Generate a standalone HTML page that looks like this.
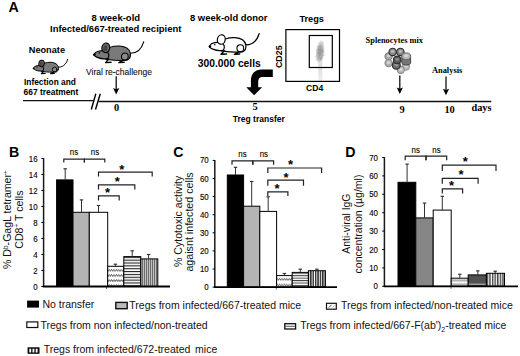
<!DOCTYPE html>
<html><head><meta charset="utf-8"><style>
html,body{margin:0;padding:0;background:#fff;}
svg{display:block;}
</style></head><body>
<svg width="520" height="356" viewBox="0 0 520 356">
<rect width="520" height="356" fill="#fff"/>
<text x="8.6" y="11.9" font-size="14.2" font-weight="bold" font-family="'Liberation Sans', sans-serif" text-anchor="start" fill="#000" >A</text>
<text x="91.5" y="20.8" font-size="9.5" font-weight="bold" font-family="'Liberation Sans', sans-serif" text-anchor="start" fill="#000" >8 week-old</text>
<text x="50.0" y="32.3" font-size="9.46" font-weight="bold" font-family="'Liberation Sans', sans-serif" text-anchor="start" fill="#000" >Infected/667-treated recipient</text>
<text x="28.8" y="53.0" font-size="9.18" font-weight="bold" font-family="'Liberation Sans', sans-serif" text-anchor="start" fill="#000" >Neonate</text>
<text x="24.0" y="84.9" font-size="8.35" font-weight="bold" font-family="'Liberation Sans', sans-serif" text-anchor="start" fill="#000" >Infection and</text>
<text x="23.6" y="95.3" font-size="8.42" font-weight="bold" font-family="'Liberation Sans', sans-serif" text-anchor="start" fill="#000" >667 treatment</text>
<text x="86.0" y="74.6" font-size="8.5" font-weight="normal" font-family="'Liberation Sans', sans-serif" text-anchor="start" fill="#111" stroke="#111" stroke-width="0.1">Viral re-challenge</text>
<text x="190.0" y="20.9" font-size="9.44" font-weight="bold" font-family="'Liberation Sans', sans-serif" text-anchor="start" fill="#000" >8 week-old donor</text>
<text x="197.8" y="67.4" font-size="10.3" font-weight="bold" font-family="'Liberation Sans', sans-serif" text-anchor="start" fill="#000" >300.000 cells</text>
<text x="299.4" y="21.5" font-size="9.22" font-weight="bold" font-family="'Liberation Sans', sans-serif" text-anchor="start" fill="#000" >Tregs</text>
<text x="306.0" y="90.7" font-size="8.6" font-weight="bold" font-family="'Liberation Sans', sans-serif" text-anchor="start" fill="#000" >CD4</text>
<text transform="translate(281.7,45.4) rotate(-90)" font-size="8.9" font-weight="bold" font-family="'Liberation Sans', sans-serif" text-anchor="end">CD25</text>
<text x="232.8" y="121.5" font-size="8.51" font-weight="bold" font-family="'Liberation Sans', sans-serif" text-anchor="start" fill="#000" >Treg transfer</text>
<text x="365.6" y="42.7" font-size="8.4" font-weight="bold" font-family="'Liberation Serif', serif" text-anchor="start" fill="#000" >Splenocytes mix</text>
<text x="431.9" y="72.7" font-size="8.42" font-weight="bold" font-family="'Liberation Serif', serif" text-anchor="start" fill="#000" >Analysis</text>
<text x="471.4" y="110.9" font-size="10.33" font-weight="bold" font-family="'Liberation Serif', serif" text-anchor="start" fill="#000" >days</text>
<text x="116.7" y="110.6" font-size="10.4" font-weight="bold" font-family="'Liberation Serif', serif" text-anchor="middle" fill="#000" >0</text>
<text x="255.0" y="110.4" font-size="10.4" font-weight="bold" font-family="'Liberation Serif', serif" text-anchor="middle" fill="#000" >5</text>
<text x="402.1" y="113.1" font-size="10.4" font-weight="bold" font-family="'Liberation Serif', serif" text-anchor="middle" fill="#000" >9</text>
<text x="449.6" y="113.3" font-size="10.4" font-weight="bold" font-family="'Liberation Serif', serif" text-anchor="middle" fill="#000" >10</text>
<line x1="23" y1="100.6" x2="93.6" y2="100.6" stroke="#111" stroke-width="1.4"/>
<line x1="98.6" y1="101.5" x2="491.3" y2="101.5" stroke="#111" stroke-width="1.35"/>
<line x1="95.8" y1="93.7" x2="91.3" y2="109.5" stroke="#000" stroke-width="1.4"/>
<line x1="100.3" y1="93.7" x2="95.5" y2="109.5" stroke="#000" stroke-width="1.4"/>
<line x1="116.2" y1="76.2" x2="116.2" y2="90.5" stroke="#111" stroke-width="1.3"/>
<path d="M113.10000000000001,88.1 L116.2,89.3 L119.3,88.1 L116.2,94.5 Z" fill="#000"/>
<line x1="399.8" y1="75.5" x2="399.8" y2="90.0" stroke="#111" stroke-width="1.3"/>
<path d="M396.7,87.6 L399.8,88.8 L402.90000000000003,87.6 L399.8,94.0 Z" fill="#000"/>
<line x1="446.0" y1="76.5" x2="446.0" y2="91.2" stroke="#111" stroke-width="1.3"/>
<path d="M442.9,88.8 L446.0,90.0 L449.1,88.8 L446.0,95.2 Z" fill="#000"/>
<path d="M272.8,69.6 L272.8,77.1 L261.5,77.1 Q258.2,77.6 258.2,82 L258.2,87.2 L262.2,87.2 L254.1,95.3 L246.3,87.2 L250.9,87.2 L250.9,80 Q251.5,70 261,69.6 Z" fill="#000"/>
<defs><radialGradient id="blob" cx="0.5" cy="0.5" r="0.5"><stop offset="0" stop-color="#969696"/><stop offset="0.45" stop-color="#b0b0b0"/><stop offset="0.8" stop-color="#dcdcdc"/><stop offset="1" stop-color="#fff" stop-opacity="0"/></radialGradient><linearGradient id="streak" x1="0" y1="0" x2="0" y2="1"><stop offset="0" stop-color="#d8d8d8"/><stop offset="1" stop-color="#eee"/></linearGradient></defs>
<rect x="318.3" y="60" width="4" height="21" fill="url(#streak)"/>
<ellipse cx="320.1" cy="52.0" rx="4.8" ry="13" transform="rotate(6 320.1 52.0)" fill="url(#blob)"/>
<rect x="319.31" y="54.81" width="0.9" height="0.9" fill="rgb(126,126,126)" opacity="0.55"/>
<rect x="322.03" y="55.00" width="0.9" height="0.9" fill="rgb(166,166,166)" opacity="0.55"/>
<rect x="316.89" y="46.01" width="0.9" height="0.9" fill="rgb(147,147,147)" opacity="0.55"/>
<rect x="322.04" y="53.37" width="0.9" height="0.9" fill="rgb(128,128,128)" opacity="0.55"/>
<rect x="319.55" y="58.95" width="0.9" height="0.9" fill="rgb(127,127,127)" opacity="0.55"/>
<rect x="320.83" y="49.50" width="0.9" height="0.9" fill="rgb(148,148,148)" opacity="0.55"/>
<rect x="318.83" y="46.68" width="0.9" height="0.9" fill="rgb(127,127,127)" opacity="0.55"/>
<rect x="318.58" y="49.42" width="0.9" height="0.9" fill="rgb(148,148,148)" opacity="0.55"/>
<rect x="323.57" y="55.14" width="0.9" height="0.9" fill="rgb(157,157,157)" opacity="0.55"/>
<rect x="317.59" y="55.34" width="0.9" height="0.9" fill="rgb(159,159,159)" opacity="0.55"/>
<rect x="317.59" y="48.92" width="0.9" height="0.9" fill="rgb(133,133,133)" opacity="0.55"/>
<rect x="318.00" y="48.15" width="0.9" height="0.9" fill="rgb(167,167,167)" opacity="0.55"/>
<rect x="322.18" y="56.99" width="0.9" height="0.9" fill="rgb(127,127,127)" opacity="0.55"/>
<rect x="318.82" y="47.62" width="0.9" height="0.9" fill="rgb(188,188,188)" opacity="0.55"/>
<rect x="318.33" y="54.10" width="0.9" height="0.9" fill="rgb(178,178,178)" opacity="0.55"/>
<rect x="318.81" y="55.18" width="0.9" height="0.9" fill="rgb(143,143,143)" opacity="0.55"/>
<rect x="320.02" y="48.09" width="0.9" height="0.9" fill="rgb(158,158,158)" opacity="0.55"/>
<rect x="316.25" y="50.23" width="0.9" height="0.9" fill="rgb(177,177,177)" opacity="0.55"/>
<rect x="317.28" y="66.97" width="0.9" height="0.9" fill="rgb(135,135,135)" opacity="0.55"/>
<rect x="318.93" y="51.75" width="0.9" height="0.9" fill="rgb(163,163,163)" opacity="0.55"/>
<rect x="320.92" y="57.20" width="0.9" height="0.9" fill="rgb(125,125,125)" opacity="0.55"/>
<rect x="320.93" y="51.48" width="0.9" height="0.9" fill="rgb(160,160,160)" opacity="0.55"/>
<rect x="318.67" y="56.31" width="0.9" height="0.9" fill="rgb(183,183,183)" opacity="0.55"/>
<rect x="318.46" y="49.08" width="0.9" height="0.9" fill="rgb(131,131,131)" opacity="0.55"/>
<rect x="322.44" y="49.88" width="0.9" height="0.9" fill="rgb(128,128,128)" opacity="0.55"/>
<rect x="322.67" y="55.18" width="0.9" height="0.9" fill="rgb(177,177,177)" opacity="0.55"/>
<rect x="319.14" y="57.30" width="0.9" height="0.9" fill="rgb(164,164,164)" opacity="0.55"/>
<rect x="322.22" y="52.86" width="0.9" height="0.9" fill="rgb(141,141,141)" opacity="0.55"/>
<rect x="318.72" y="47.88" width="0.9" height="0.9" fill="rgb(147,147,147)" opacity="0.55"/>
<rect x="320.51" y="49.12" width="0.9" height="0.9" fill="rgb(151,151,151)" opacity="0.55"/>
<rect x="315.79" y="59.34" width="0.9" height="0.9" fill="rgb(183,183,183)" opacity="0.55"/>
<rect x="321.72" y="54.91" width="0.9" height="0.9" fill="rgb(190,190,190)" opacity="0.55"/>
<rect x="319.62" y="54.94" width="0.9" height="0.9" fill="rgb(175,175,175)" opacity="0.55"/>
<rect x="321.50" y="48.65" width="0.9" height="0.9" fill="rgb(173,173,173)" opacity="0.55"/>
<rect x="323.19" y="51.29" width="0.9" height="0.9" fill="rgb(168,168,168)" opacity="0.55"/>
<rect x="321.29" y="51.17" width="0.9" height="0.9" fill="rgb(142,142,142)" opacity="0.55"/>
<rect x="321.15" y="58.56" width="0.9" height="0.9" fill="rgb(121,121,121)" opacity="0.55"/>
<rect x="317.38" y="52.69" width="0.9" height="0.9" fill="rgb(153,153,153)" opacity="0.55"/>
<rect x="319.57" y="55.02" width="0.9" height="0.9" fill="rgb(188,188,188)" opacity="0.55"/>
<rect x="317.82" y="57.21" width="0.9" height="0.9" fill="rgb(136,136,136)" opacity="0.55"/>
<rect x="319.84" y="45.84" width="0.9" height="0.9" fill="rgb(126,126,126)" opacity="0.55"/>
<rect x="315.90" y="54.99" width="0.9" height="0.9" fill="rgb(170,170,170)" opacity="0.55"/>
<rect x="318.17" y="55.29" width="0.9" height="0.9" fill="rgb(181,181,181)" opacity="0.55"/>
<rect x="319.77" y="50.53" width="0.9" height="0.9" fill="rgb(128,128,128)" opacity="0.55"/>
<rect x="322.30" y="51.43" width="0.9" height="0.9" fill="rgb(134,134,134)" opacity="0.55"/>
<rect x="319.60" y="53.53" width="0.9" height="0.9" fill="rgb(120,120,120)" opacity="0.55"/>
<rect x="318.11" y="49.22" width="0.9" height="0.9" fill="rgb(166,166,166)" opacity="0.55"/>
<rect x="319.66" y="50.62" width="0.9" height="0.9" fill="rgb(146,146,146)" opacity="0.55"/>
<rect x="319.45" y="49.95" width="0.9" height="0.9" fill="rgb(152,152,152)" opacity="0.55"/>
<rect x="322.92" y="49.94" width="0.9" height="0.9" fill="rgb(180,180,180)" opacity="0.55"/>
<rect x="322.14" y="59.46" width="0.9" height="0.9" fill="rgb(179,179,179)" opacity="0.55"/>
<rect x="318.33" y="52.58" width="0.9" height="0.9" fill="rgb(138,138,138)" opacity="0.55"/>
<rect x="321.27" y="55.02" width="0.9" height="0.9" fill="rgb(153,153,153)" opacity="0.55"/>
<rect x="316.94" y="53.13" width="0.9" height="0.9" fill="rgb(186,186,186)" opacity="0.55"/>
<rect x="324.76" y="53.95" width="0.9" height="0.9" fill="rgb(187,187,187)" opacity="0.55"/>
<rect x="317.48" y="58.43" width="0.9" height="0.9" fill="rgb(123,123,123)" opacity="0.55"/>
<rect x="320.65" y="47.38" width="0.9" height="0.9" fill="rgb(131,131,131)" opacity="0.55"/>
<rect x="319.99" y="47.96" width="0.9" height="0.9" fill="rgb(166,166,166)" opacity="0.55"/>
<rect x="321.95" y="49.19" width="0.9" height="0.9" fill="rgb(148,148,148)" opacity="0.55"/>
<rect x="316.89" y="50.06" width="0.9" height="0.9" fill="rgb(162,162,162)" opacity="0.55"/>
<rect x="318.87" y="46.27" width="0.9" height="0.9" fill="rgb(144,144,144)" opacity="0.55"/>
<rect x="322.33" y="42.47" width="0.9" height="0.9" fill="rgb(149,149,149)" opacity="0.55"/>
<rect x="320.21" y="58.09" width="0.9" height="0.9" fill="rgb(123,123,123)" opacity="0.55"/>
<rect x="323.69" y="51.37" width="0.9" height="0.9" fill="rgb(180,180,180)" opacity="0.55"/>
<rect x="319.08" y="60.43" width="0.9" height="0.9" fill="rgb(164,164,164)" opacity="0.55"/>
<rect x="315.23" y="56.21" width="0.9" height="0.9" fill="rgb(164,164,164)" opacity="0.55"/>
<rect x="322.08" y="50.54" width="0.9" height="0.9" fill="rgb(148,148,148)" opacity="0.55"/>
<rect x="321.53" y="55.71" width="0.9" height="0.9" fill="rgb(163,163,163)" opacity="0.55"/>
<rect x="320.15" y="59.38" width="0.9" height="0.9" fill="rgb(120,120,120)" opacity="0.55"/>
<rect x="317.11" y="53.03" width="0.9" height="0.9" fill="rgb(130,130,130)" opacity="0.55"/>
<rect x="285.9" y="29.6" width="53.6" height="51.8" fill="none" stroke="#000" stroke-width="1.2"/>
<rect x="309.3" y="35.5" width="23" height="32" fill="none" stroke="#000" stroke-width="1.2"/>
<g transform="translate(93.7,54.6) scale(1.0)" stroke="#000" stroke-width="1.15" stroke-linejoin="round" stroke-linecap="round">
<path d="M36.2,-1.4 C42,-1.2 47.5,-4.5 50,-12.8" fill="none"/>
<path d="M9,-3.2 C13,-6.8 19,-8.8 26,-8.6 C31.5,-8.2 35.8,-5.5 36.6,-1.4 C37.1,1.8 35.8,4.6 33.2,5.6 C28,6.2 19,5.6 12,4.6 Z" fill="#7a7a7a"/>
<path d="M0,0 C1.2,-1.9 3.2,-3.2 5.6,-3.6 C9,-4.2 12.5,-3.8 14.2,-2.0 C15.6,-0.4 15.4,2.8 13.6,4.0 C10.5,4.6 6.5,4.0 3.6,2.8 C2.2,2.2 1.0,1.4 0.3,0.8 Z" fill="#7a7a7a"/>
<circle cx="31.1" cy="1.9" r="3.4" fill="#8a8a8a" stroke-width="1.035"/>
<ellipse cx="12.1" cy="-6.8" rx="3.9" ry="4.8" transform="rotate(12 12.1 -6.8)" fill="#6a6a6a"/>
<ellipse cx="11.6" cy="-6.2" rx="2.0" ry="3.4" transform="rotate(12 11.6 -6.2)" fill="#444" stroke="none"/>
<path d="M15,4.4 L11.9,8.0 L17.3,7.6" fill="none" stroke-width="1.4375"/>
<path d="M29.4,5.6 L25.2,8.0 L30.5,7.6" fill="none" stroke-width="1.4375"/>
<circle cx="0.8" cy="0.2" r="1.2" fill="#000" stroke="none"/>
<circle cx="5.6" cy="-1.6" r="0.8" fill="#000" stroke="none"/>
</g>
<g transform="translate(33.2,68.2) scale(0.69)" stroke="#000" stroke-width="1.4" stroke-linejoin="round" stroke-linecap="round">
<path d="M36.2,-1.4 C42,-1.2 47.5,-4.5 50,-12.8" fill="none"/>
<path d="M9,-3.2 C13,-6.8 19,-8.8 26,-8.6 C31.5,-8.2 35.8,-5.5 36.6,-1.4 C37.1,1.8 35.8,4.6 33.2,5.6 C28,6.2 19,5.6 12,4.6 Z" fill="#7a7a7a"/>
<path d="M0,0 C1.2,-1.9 3.2,-3.2 5.6,-3.6 C9,-4.2 12.5,-3.8 14.2,-2.0 C15.6,-0.4 15.4,2.8 13.6,4.0 C10.5,4.6 6.5,4.0 3.6,2.8 C2.2,2.2 1.0,1.4 0.3,0.8 Z" fill="#7a7a7a"/>
<circle cx="31.1" cy="1.9" r="3.4" fill="#8a8a8a" stroke-width="1.26"/>
<ellipse cx="12.1" cy="-6.8" rx="3.9" ry="4.8" transform="rotate(12 12.1 -6.8)" fill="#6a6a6a"/>
<ellipse cx="11.6" cy="-6.2" rx="2.0" ry="3.4" transform="rotate(12 11.6 -6.2)" fill="#444" stroke="none"/>
<path d="M15,4.4 L11.9,8.0 L17.3,7.6" fill="none" stroke-width="1.75"/>
<path d="M29.4,5.6 L25.2,8.0 L30.5,7.6" fill="none" stroke-width="1.75"/>
<circle cx="0.8" cy="0.2" r="1.2" fill="#000" stroke="none"/>
<circle cx="5.6" cy="-1.6" r="0.8" fill="#000" stroke="none"/>
</g>
<g transform="translate(209.2,46.3) scale(1.0)" stroke="#000" stroke-width="1.2" stroke-linejoin="round" stroke-linecap="round">
<path d="M36.2,-1.4 C42,-1.2 47.5,-4.5 50,-12.8" fill="none"/>
<path d="M9,-3.2 C13,-6.8 19,-8.8 26,-8.6 C31.5,-8.2 35.8,-5.5 36.6,-1.4 C37.1,1.8 35.8,4.6 33.2,5.6 C28,6.2 19,5.6 12,4.6 Z" fill="#fff"/>
<path d="M0,0 C1.2,-1.9 3.2,-3.2 5.6,-3.6 C9,-4.2 12.5,-3.8 14.2,-2.0 C15.6,-0.4 15.4,2.8 13.6,4.0 C10.5,4.6 6.5,4.0 3.6,2.8 C2.2,2.2 1.0,1.4 0.3,0.8 Z" fill="#fff"/>
<circle cx="31.1" cy="1.9" r="3.4" fill="#fff" stroke-width="1.08"/>
<ellipse cx="12.1" cy="-6.8" rx="3.9" ry="4.8" transform="rotate(12 12.1 -6.8)" fill="#fff"/>
<path d="M15,4.4 L11.9,8.0 L17.3,7.6" fill="none" stroke-width="1.5"/>
<path d="M29.4,5.6 L25.2,8.0 L30.5,7.6" fill="none" stroke-width="1.5"/>
<circle cx="0.8" cy="0.2" r="1.2" fill="#000" stroke="none"/>
<circle cx="5.6" cy="-1.6" r="0.8" fill="#000" stroke="none"/>
</g>
<circle cx="388.6" cy="56.4" r="3.6" fill="#a8a8a8" stroke="#777" stroke-width="1.1"/>
<ellipse cx="388.6" cy="55.9" rx="1.8" ry="1.368" fill="#d0d0d0"/>
<circle cx="388.6" cy="63.1" r="3.6" fill="#b0b0b0" stroke="#888" stroke-width="1.1"/>
<ellipse cx="388.6" cy="62.6" rx="1.8" ry="1.368" fill="#d8d8d8"/>
<circle cx="392.7" cy="51.9" r="3.7" fill="#888" stroke="#2a2a2a" stroke-width="1.1"/>
<ellipse cx="392.7" cy="51.4" rx="1.85" ry="1.4060000000000001" fill="#bbb"/>
<circle cx="400.4" cy="51.9" r="3.7" fill="#888" stroke="#2a2a2a" stroke-width="1.1"/>
<ellipse cx="400.4" cy="51.4" rx="1.85" ry="1.4060000000000001" fill="#bbb"/>
<circle cx="406.0" cy="66.6" r="3.6" fill="#bbb" stroke="#999" stroke-width="1.1"/>
<ellipse cx="406.0" cy="66.1" rx="1.8" ry="1.368" fill="#ddd"/>
<circle cx="400.8" cy="69.8" r="3.6" fill="#b8b8b8" stroke="#8a8a8a" stroke-width="1.1"/>
<ellipse cx="400.8" cy="69.3" rx="1.8" ry="1.368" fill="#ddd"/>
<circle cx="396.3" cy="65.3" r="4.0" fill="#6a6a6a" stroke="#2a2a2a" stroke-width="1.1"/>
<ellipse cx="396.3" cy="64.8" rx="2.0" ry="1.52" fill="#999"/>
<circle cx="397.2" cy="59.9" r="3.8" fill="#5a5a5a" stroke="#2a2a2a" stroke-width="1.1"/>
<ellipse cx="397.2" cy="59.4" rx="1.9" ry="1.444" fill="#8a8a8a"/>
<path d="M401.8,56.5 L401.8,62.5 A4.4,2.6 0 0 0 410.6,62.5 L410.6,56.5 Z" fill="#777" stroke="#444" stroke-width="1"/>
<ellipse cx="406.2" cy="56.3" rx="4.4" ry="3.4" fill="#b5b5b5" stroke="#666" stroke-width="1"/>
<ellipse cx="406.2" cy="55.8" rx="2.2" ry="1.5" fill="#d5d5d5"/>
<defs>
<pattern id="hs" patternUnits="userSpaceOnUse" x="0" y="0.3" width="4" height="2.85"><rect width="4" height="2.85" fill="#fff"/><rect y="0" width="4" height="1.1" fill="#222"/></pattern>
<pattern id="hs2" patternUnits="userSpaceOnUse" x="0" y="0.8" width="4" height="2.45"><rect width="4" height="2.45" fill="#fff"/><rect y="0" width="4" height="1.0" fill="#444"/></pattern>
<pattern id="vs" patternUnits="userSpaceOnUse" x="0.3" y="0" width="2.0" height="4"><rect width="2.0" height="4" fill="#fff"/><rect x="0" width="0.95" height="4" fill="#222"/></pattern>
<pattern id="vs2" patternUnits="userSpaceOnUse" x="0.5" y="0" width="2.4" height="4"><rect width="2.4" height="4" fill="#fff"/><rect x="0" width="1.5" height="4" fill="#333"/></pattern>
<pattern id="vs3" patternUnits="userSpaceOnUse" x="0.5" y="0" width="2.6" height="4"><rect width="2.6" height="4" fill="#fff"/><rect x="0" width="1.4" height="4" fill="#444"/></pattern>
<pattern id="wv" patternUnits="userSpaceOnUse" x="0" y="1.1" width="2.4" height="5.15"><rect width="2.4" height="5.15" fill="#fff"/><path d="M-1.2,0.4 L0,2.4 L1.2,0.4 L2.4,2.4 L3.6,0.4" fill="none" stroke="#222" stroke-width="0.75"/></pattern>
<pattern id="wv2" patternUnits="userSpaceOnUse" x="0" y="5.3" width="2.4" height="5.8"><rect width="2.4" height="5.8" fill="#fff"/><path d="M-1.2,0.4 L0,2.4 L1.2,0.4 L2.4,2.4 L3.6,0.4" fill="none" stroke="#222" stroke-width="0.75"/></pattern>
<pattern id="wv3" patternUnits="userSpaceOnUse" x="0" y="3.3" width="2.4" height="4"><rect width="2.4" height="4" fill="#fff"/><circle cx="1.2" cy="1.2" r="0.85" fill="none" stroke="#555" stroke-width="0.6"/></pattern>
</defs>
<text x="9.0" y="156.6" font-size="14.2" font-weight="bold" font-family="'Liberation Sans', sans-serif" text-anchor="start" fill="#000" >B</text>
<rect x="56.6" y="179.9" width="16.4" height="106.6" fill="#000" stroke="#000" stroke-width="1.0"/>
<rect x="73.0" y="212.3" width="16.299999999999997" height="74.19999999999999" fill="#b4b4b4" stroke="#000" stroke-width="1.0"/>
<rect x="89.3" y="212.3" width="18.400000000000006" height="74.19999999999999" fill="#fff" stroke="#000" stroke-width="1.0"/>
<rect x="107.7" y="266.3" width="16.099999999999994" height="20.19999999999999" fill="url(#wv)" stroke="#000" stroke-width="1.0"/>
<rect x="123.8" y="256.6" width="17.000000000000014" height="29.899999999999977" fill="url(#hs)" stroke="#000" stroke-width="1.0"/>
<rect x="140.8" y="258.9" width="17.0" height="27.600000000000023" fill="url(#vs)" stroke="#000" stroke-width="1.0"/>
<line x1="65.2" y1="168.8" x2="65.2" y2="179.9" stroke="#333" stroke-width="1"/>
<line x1="63.5" y1="168.8" x2="66.9" y2="168.8" stroke="#333" stroke-width="1.2"/>
<line x1="81.5" y1="199.9" x2="81.5" y2="212.3" stroke="#333" stroke-width="1"/>
<line x1="79.8" y1="199.9" x2="83.2" y2="199.9" stroke="#333" stroke-width="1.2"/>
<line x1="98.5" y1="205.5" x2="98.5" y2="212.3" stroke="#333" stroke-width="1"/>
<line x1="96.8" y1="205.5" x2="100.2" y2="205.5" stroke="#333" stroke-width="1.2"/>
<line x1="115.4" y1="264.2" x2="115.4" y2="266.3" stroke="#333" stroke-width="1"/>
<line x1="113.7" y1="264.2" x2="117.10000000000001" y2="264.2" stroke="#333" stroke-width="1.2"/>
<line x1="132.2" y1="250.8" x2="132.2" y2="256.6" stroke="#333" stroke-width="1"/>
<line x1="130.5" y1="250.8" x2="133.89999999999998" y2="250.8" stroke="#333" stroke-width="1.2"/>
<line x1="148.6" y1="254.5" x2="148.6" y2="258.9" stroke="#333" stroke-width="1"/>
<line x1="146.9" y1="254.5" x2="150.29999999999998" y2="254.5" stroke="#333" stroke-width="1.2"/>
<line x1="43.6" y1="158.2" x2="43.6" y2="286.5" stroke="#1a1a1a" stroke-width="1.5"/>
<line x1="42.9" y1="286.5" x2="170" y2="286.5" stroke="#000" stroke-width="1.8"/>
<line x1="41.4" y1="286.5" x2="43.6" y2="286.5" stroke="#000" stroke-width="1"/>
<text x="37.6" y="289.5" font-size="8.5" font-weight="normal" font-family="'Liberation Sans', sans-serif" text-anchor="end" fill="#000" textLength="4.39" lengthAdjust="spacingAndGlyphs" stroke="#000" stroke-width="0.12">0</text>
<line x1="41.4" y1="270.5" x2="43.6" y2="270.5" stroke="#000" stroke-width="1"/>
<text x="37.6" y="273.5" font-size="8.5" font-weight="normal" font-family="'Liberation Sans', sans-serif" text-anchor="end" fill="#000" textLength="4.39" lengthAdjust="spacingAndGlyphs" stroke="#000" stroke-width="0.12">2</text>
<line x1="41.4" y1="254.5" x2="43.6" y2="254.5" stroke="#000" stroke-width="1"/>
<text x="37.6" y="257.5" font-size="8.5" font-weight="normal" font-family="'Liberation Sans', sans-serif" text-anchor="end" fill="#000" textLength="4.39" lengthAdjust="spacingAndGlyphs" stroke="#000" stroke-width="0.12">4</text>
<line x1="41.4" y1="238.5" x2="43.6" y2="238.5" stroke="#000" stroke-width="1"/>
<text x="37.6" y="241.5" font-size="8.5" font-weight="normal" font-family="'Liberation Sans', sans-serif" text-anchor="end" fill="#000" textLength="4.39" lengthAdjust="spacingAndGlyphs" stroke="#000" stroke-width="0.12">6</text>
<line x1="41.4" y1="222.5" x2="43.6" y2="222.5" stroke="#000" stroke-width="1"/>
<text x="37.6" y="225.5" font-size="8.5" font-weight="normal" font-family="'Liberation Sans', sans-serif" text-anchor="end" fill="#000" textLength="4.39" lengthAdjust="spacingAndGlyphs" stroke="#000" stroke-width="0.12">8</text>
<line x1="41.4" y1="206.5" x2="43.6" y2="206.5" stroke="#000" stroke-width="1"/>
<text x="37.6" y="209.5" font-size="8.5" font-weight="normal" font-family="'Liberation Sans', sans-serif" text-anchor="end" fill="#000" textLength="8.78" lengthAdjust="spacingAndGlyphs" stroke="#000" stroke-width="0.12">10</text>
<line x1="41.4" y1="190.5" x2="43.6" y2="190.5" stroke="#000" stroke-width="1"/>
<text x="37.6" y="193.5" font-size="8.5" font-weight="normal" font-family="'Liberation Sans', sans-serif" text-anchor="end" fill="#000" textLength="8.78" lengthAdjust="spacingAndGlyphs" stroke="#000" stroke-width="0.12">12</text>
<line x1="41.4" y1="174.5" x2="43.6" y2="174.5" stroke="#000" stroke-width="1"/>
<text x="37.6" y="177.5" font-size="8.5" font-weight="normal" font-family="'Liberation Sans', sans-serif" text-anchor="end" fill="#000" textLength="8.78" lengthAdjust="spacingAndGlyphs" stroke="#000" stroke-width="0.12">14</text>
<line x1="41.4" y1="158.5" x2="43.6" y2="158.5" stroke="#000" stroke-width="1"/>
<text x="37.6" y="161.5" font-size="8.5" font-weight="normal" font-family="'Liberation Sans', sans-serif" text-anchor="end" fill="#000" textLength="8.78" lengthAdjust="spacingAndGlyphs" stroke="#000" stroke-width="0.12">16</text>
<line x1="106.5" y1="286.5" x2="106.5" y2="289.0" stroke="#000" stroke-width="0.6"/>
<path d="M63.8,162.5 L63.8,159.2 L84.4,159.2 L84.4,162.5" fill="none" stroke="#222" stroke-width="1.2"/>
<path d="M84.4,162.5 L84.4,159.2 L104.8,159.2 L104.8,162.5" fill="none" stroke="#222" stroke-width="1.2"/>
<text x="74" y="155.4" font-size="8.6" font-weight="normal" font-family="'Liberation Sans', sans-serif" text-anchor="middle" fill="#000" textLength="8.3" lengthAdjust="spacingAndGlyphs" stroke="#000" stroke-width="0.12">ns</text>
<text x="95" y="155.4" font-size="8.6" font-weight="normal" font-family="'Liberation Sans', sans-serif" text-anchor="middle" fill="#000" textLength="8.3" lengthAdjust="spacingAndGlyphs" stroke="#000" stroke-width="0.12">ns</text>
<path d="M98.5,176.6 L98.5,172.1 L152.2,172.1 L152.2,176.6" fill="none" stroke="#222" stroke-width="1.2"/>
<path d="M98.5,189.4 L98.5,184.9 L134.8,184.9 L134.8,189.4" fill="none" stroke="#222" stroke-width="1.2"/>
<path d="M98.5,200.4 L98.5,195.9 L119.2,195.9 L119.2,200.4" fill="none" stroke="#222" stroke-width="1.2"/>
<text x="121.89999999999999" y="173.5" font-size="13" font-weight="bold" font-family="'Liberation Sans', sans-serif" text-anchor="middle" fill="#000" >*</text>
<text x="117.19999999999999" y="186.3" font-size="13" font-weight="bold" font-family="'Liberation Sans', sans-serif" text-anchor="middle" fill="#000" >*</text>
<text x="107.6" y="197.3" font-size="13" font-weight="bold" font-family="'Liberation Sans', sans-serif" text-anchor="middle" fill="#000" >*</text>
<text transform="translate(11.3,219.6) rotate(-90)" font-size="10.6" font-family="'Liberation Sans', sans-serif" text-anchor="middle" fill="#111">% D<tspan font-size="6.5" dy="-3.5">b</tspan><tspan dy="3.5">-GagL tetramer</tspan><tspan font-size="6.5" dy="-3.5">+</tspan></text>
<text transform="translate(22.8,219.6) rotate(-90)" font-size="10.6" font-family="'Liberation Sans', sans-serif" text-anchor="middle" fill="#111">CD8<tspan font-size="6.5" dy="-3.5">+</tspan><tspan dy="3.5"> T cells</tspan></text>
<text x="173.2" y="156.6" font-size="14.2" font-weight="bold" font-family="'Liberation Sans', sans-serif" text-anchor="start" fill="#000" >C</text>
<rect x="227.3" y="175.0" width="16.299999999999983" height="112.10000000000002" fill="#000" stroke="#000" stroke-width="1.0"/>
<rect x="243.6" y="206.2" width="16.200000000000017" height="80.90000000000003" fill="#b4b4b4" stroke="#000" stroke-width="1.0"/>
<rect x="259.8" y="211.4" width="16.80000000000001" height="75.70000000000002" fill="#fff" stroke="#000" stroke-width="1.0"/>
<rect x="276.6" y="275.6" width="15.599999999999966" height="11.5" fill="url(#wv2)" stroke="#000" stroke-width="1.0"/>
<rect x="292.2" y="272.4" width="16.19999999999999" height="14.700000000000045" fill="url(#hs2)" stroke="#000" stroke-width="1.0"/>
<rect x="308.4" y="270.7" width="17.0" height="16.400000000000034" fill="url(#vs2)" stroke="#000" stroke-width="1.0"/>
<line x1="235.5" y1="167.3" x2="235.5" y2="175.0" stroke="#333" stroke-width="1"/>
<line x1="233.8" y1="167.3" x2="237.2" y2="167.3" stroke="#333" stroke-width="1.2"/>
<line x1="251.7" y1="181.5" x2="251.7" y2="206.2" stroke="#333" stroke-width="1"/>
<line x1="250.0" y1="181.5" x2="253.39999999999998" y2="181.5" stroke="#333" stroke-width="1.2"/>
<line x1="268.2" y1="196.8" x2="268.2" y2="211.4" stroke="#333" stroke-width="1"/>
<line x1="266.5" y1="196.8" x2="269.9" y2="196.8" stroke="#333" stroke-width="1.2"/>
<line x1="284.4" y1="273.5" x2="284.4" y2="275.6" stroke="#333" stroke-width="1"/>
<line x1="282.7" y1="273.5" x2="286.09999999999997" y2="273.5" stroke="#333" stroke-width="1.2"/>
<line x1="300.3" y1="269.2" x2="300.3" y2="272.1" stroke="#333" stroke-width="1"/>
<line x1="298.6" y1="269.2" x2="302.0" y2="269.2" stroke="#333" stroke-width="1.2"/>
<line x1="316.9" y1="269.2" x2="316.9" y2="270.7" stroke="#333" stroke-width="1"/>
<line x1="315.2" y1="269.2" x2="318.59999999999997" y2="269.2" stroke="#333" stroke-width="1.2"/>
<line x1="214.8" y1="160.10000000000002" x2="214.8" y2="287.1" stroke="#1a1a1a" stroke-width="1.5"/>
<line x1="214.10000000000002" y1="287.1" x2="337" y2="287.1" stroke="#000" stroke-width="1.8"/>
<line x1="212.60000000000002" y1="287.1" x2="214.8" y2="287.1" stroke="#000" stroke-width="1"/>
<text x="208.7" y="290.1" font-size="8.5" font-weight="normal" font-family="'Liberation Sans', sans-serif" text-anchor="end" fill="#000" textLength="4.39" lengthAdjust="spacingAndGlyphs" stroke="#000" stroke-width="0.12">0</text>
<line x1="212.60000000000002" y1="269.0" x2="214.8" y2="269.0" stroke="#000" stroke-width="1"/>
<text x="208.7" y="272.0" font-size="8.5" font-weight="normal" font-family="'Liberation Sans', sans-serif" text-anchor="end" fill="#000" textLength="8.78" lengthAdjust="spacingAndGlyphs" stroke="#000" stroke-width="0.12">10</text>
<line x1="212.60000000000002" y1="250.90000000000003" x2="214.8" y2="250.90000000000003" stroke="#000" stroke-width="1"/>
<text x="208.7" y="253.90000000000003" font-size="8.5" font-weight="normal" font-family="'Liberation Sans', sans-serif" text-anchor="end" fill="#000" textLength="8.78" lengthAdjust="spacingAndGlyphs" stroke="#000" stroke-width="0.12">20</text>
<line x1="212.60000000000002" y1="232.8" x2="214.8" y2="232.8" stroke="#000" stroke-width="1"/>
<text x="208.7" y="235.8" font-size="8.5" font-weight="normal" font-family="'Liberation Sans', sans-serif" text-anchor="end" fill="#000" textLength="8.78" lengthAdjust="spacingAndGlyphs" stroke="#000" stroke-width="0.12">30</text>
<line x1="212.60000000000002" y1="214.70000000000002" x2="214.8" y2="214.70000000000002" stroke="#000" stroke-width="1"/>
<text x="208.7" y="217.70000000000002" font-size="8.5" font-weight="normal" font-family="'Liberation Sans', sans-serif" text-anchor="end" fill="#000" textLength="8.78" lengthAdjust="spacingAndGlyphs" stroke="#000" stroke-width="0.12">40</text>
<line x1="212.60000000000002" y1="196.60000000000002" x2="214.8" y2="196.60000000000002" stroke="#000" stroke-width="1"/>
<text x="208.7" y="199.60000000000002" font-size="8.5" font-weight="normal" font-family="'Liberation Sans', sans-serif" text-anchor="end" fill="#000" textLength="8.78" lengthAdjust="spacingAndGlyphs" stroke="#000" stroke-width="0.12">50</text>
<line x1="212.60000000000002" y1="178.5" x2="214.8" y2="178.5" stroke="#000" stroke-width="1"/>
<text x="208.7" y="181.5" font-size="8.5" font-weight="normal" font-family="'Liberation Sans', sans-serif" text-anchor="end" fill="#000" textLength="8.78" lengthAdjust="spacingAndGlyphs" stroke="#000" stroke-width="0.12">60</text>
<line x1="212.60000000000002" y1="160.40000000000003" x2="214.8" y2="160.40000000000003" stroke="#000" stroke-width="1"/>
<text x="208.7" y="163.40000000000003" font-size="8.5" font-weight="normal" font-family="'Liberation Sans', sans-serif" text-anchor="end" fill="#000" textLength="8.78" lengthAdjust="spacingAndGlyphs" stroke="#000" stroke-width="0.12">70</text>
<line x1="276.3" y1="287.1" x2="276.3" y2="289.6" stroke="#000" stroke-width="0.6"/>
<path d="M232.0,164.70000000000002 L232.0,160.8 L252.8,160.8 L252.8,164.70000000000002" fill="none" stroke="#222" stroke-width="1.2"/>
<path d="M252.8,164.70000000000002 L252.8,160.8 L273.6,160.8 L273.6,164.70000000000002" fill="none" stroke="#222" stroke-width="1.2"/>
<text x="242.5" y="157.0" font-size="8.6" font-weight="normal" font-family="'Liberation Sans', sans-serif" text-anchor="middle" fill="#000" textLength="8.3" lengthAdjust="spacingAndGlyphs" stroke="#000" stroke-width="0.12">ns</text>
<text x="263.8" y="157.0" font-size="8.6" font-weight="normal" font-family="'Liberation Sans', sans-serif" text-anchor="middle" fill="#000" textLength="8.3" lengthAdjust="spacingAndGlyphs" stroke="#000" stroke-width="0.12">ns</text>
<path d="M267.8,173.0 L267.8,168.0 L321.6,168.0 L321.6,173.0" fill="none" stroke="#222" stroke-width="1.2"/>
<path d="M267.8,185.7 L267.8,180.2 L303.5,180.2 L303.5,185.7" fill="none" stroke="#222" stroke-width="1.2"/>
<path d="M267.8,195.9 L267.8,191.9 L287.9,191.9 L287.9,195.9" fill="none" stroke="#222" stroke-width="1.2"/>
<text x="290.6" y="169.3" font-size="13" font-weight="bold" font-family="'Liberation Sans', sans-serif" text-anchor="middle" fill="#000" >*</text>
<text x="286.1" y="181.6" font-size="13" font-weight="bold" font-family="'Liberation Sans', sans-serif" text-anchor="middle" fill="#000" >*</text>
<text x="277.1" y="192.8" font-size="13" font-weight="bold" font-family="'Liberation Sans', sans-serif" text-anchor="middle" fill="#000" >*</text>
<text transform="translate(182.4,221.4) rotate(-90)" font-size="10.6" font-family="'Liberation Sans', sans-serif" text-anchor="middle" fill="#111">% Cytotoxic activity</text>
<text transform="translate(193.4,222.0) rotate(-90)" font-size="10.7" font-family="'Liberation Sans', sans-serif" text-anchor="middle" fill="#111">agaisnt infected cells</text>
<text x="345.2" y="156.6" font-size="14.2" font-weight="bold" font-family="'Liberation Sans', sans-serif" text-anchor="start" fill="#000" >D</text>
<rect x="398.0" y="182.3" width="17.80000000000001" height="104.0" fill="#000" stroke="#000" stroke-width="1.0"/>
<rect x="415.8" y="217.9" width="17.399999999999977" height="68.4" fill="#868686" stroke="#000" stroke-width="1.0"/>
<rect x="433.2" y="210.1" width="18.0" height="76.20000000000002" fill="#fff" stroke="#000" stroke-width="1.0"/>
<rect x="451.2" y="278.2" width="17.0" height="8.100000000000023" fill="url(#wv3)" stroke="#000" stroke-width="1.0"/>
<rect x="468.2" y="274.9" width="18.19999999999999" height="11.400000000000034" fill="#505050" stroke="#000" stroke-width="1.0"/>
<line x1="468.8" y1="284.2" x2="485.8" y2="284.2" stroke="#ddd" stroke-width="0.8"/>
<rect x="486.4" y="273.3" width="18.100000000000023" height="13.0" fill="url(#vs3)" stroke="#000" stroke-width="1.0"/>
<line x1="407.1" y1="164.1" x2="407.1" y2="182.3" stroke="#333" stroke-width="1"/>
<line x1="405.40000000000003" y1="164.1" x2="408.8" y2="164.1" stroke="#333" stroke-width="1.2"/>
<line x1="424.5" y1="203.1" x2="424.5" y2="217.9" stroke="#333" stroke-width="1"/>
<line x1="422.8" y1="203.1" x2="426.2" y2="203.1" stroke="#333" stroke-width="1.2"/>
<line x1="442.3" y1="196.3" x2="442.3" y2="210.1" stroke="#333" stroke-width="1"/>
<line x1="440.6" y1="196.3" x2="444.0" y2="196.3" stroke="#333" stroke-width="1.2"/>
<line x1="459.8" y1="274.3" x2="459.8" y2="278.2" stroke="#333" stroke-width="1"/>
<line x1="458.1" y1="274.3" x2="461.5" y2="274.3" stroke="#333" stroke-width="1.2"/>
<line x1="477.8" y1="270.9" x2="477.8" y2="274.9" stroke="#333" stroke-width="1"/>
<line x1="476.1" y1="270.9" x2="479.5" y2="270.9" stroke="#333" stroke-width="1.2"/>
<line x1="495.2" y1="271.2" x2="495.2" y2="273.3" stroke="#333" stroke-width="1"/>
<line x1="493.5" y1="271.2" x2="496.9" y2="271.2" stroke="#333" stroke-width="1.2"/>
<line x1="384.4" y1="157.2" x2="384.4" y2="286.3" stroke="#1a1a1a" stroke-width="1.5"/>
<line x1="383.7" y1="286.3" x2="518" y2="286.3" stroke="#000" stroke-width="1.8"/>
<line x1="382.2" y1="286.3" x2="384.4" y2="286.3" stroke="#000" stroke-width="1"/>
<text x="378.0" y="289.3" font-size="8.5" font-weight="normal" font-family="'Liberation Sans', sans-serif" text-anchor="end" fill="#000" textLength="4.39" lengthAdjust="spacingAndGlyphs" stroke="#000" stroke-width="0.12">0</text>
<line x1="382.2" y1="267.90000000000003" x2="384.4" y2="267.90000000000003" stroke="#000" stroke-width="1"/>
<text x="378.0" y="270.90000000000003" font-size="8.5" font-weight="normal" font-family="'Liberation Sans', sans-serif" text-anchor="end" fill="#000" textLength="8.78" lengthAdjust="spacingAndGlyphs" stroke="#000" stroke-width="0.12">10</text>
<line x1="382.2" y1="249.5" x2="384.4" y2="249.5" stroke="#000" stroke-width="1"/>
<text x="378.0" y="252.5" font-size="8.5" font-weight="normal" font-family="'Liberation Sans', sans-serif" text-anchor="end" fill="#000" textLength="8.78" lengthAdjust="spacingAndGlyphs" stroke="#000" stroke-width="0.12">20</text>
<line x1="382.2" y1="231.10000000000002" x2="384.4" y2="231.10000000000002" stroke="#000" stroke-width="1"/>
<text x="378.0" y="234.10000000000002" font-size="8.5" font-weight="normal" font-family="'Liberation Sans', sans-serif" text-anchor="end" fill="#000" textLength="8.78" lengthAdjust="spacingAndGlyphs" stroke="#000" stroke-width="0.12">30</text>
<line x1="382.2" y1="212.7" x2="384.4" y2="212.7" stroke="#000" stroke-width="1"/>
<text x="378.0" y="215.7" font-size="8.5" font-weight="normal" font-family="'Liberation Sans', sans-serif" text-anchor="end" fill="#000" textLength="8.78" lengthAdjust="spacingAndGlyphs" stroke="#000" stroke-width="0.12">40</text>
<line x1="382.2" y1="194.3" x2="384.4" y2="194.3" stroke="#000" stroke-width="1"/>
<text x="378.0" y="197.3" font-size="8.5" font-weight="normal" font-family="'Liberation Sans', sans-serif" text-anchor="end" fill="#000" textLength="8.78" lengthAdjust="spacingAndGlyphs" stroke="#000" stroke-width="0.12">50</text>
<line x1="382.2" y1="175.9" x2="384.4" y2="175.9" stroke="#000" stroke-width="1"/>
<text x="378.0" y="178.9" font-size="8.5" font-weight="normal" font-family="'Liberation Sans', sans-serif" text-anchor="end" fill="#000" textLength="8.78" lengthAdjust="spacingAndGlyphs" stroke="#000" stroke-width="0.12">60</text>
<line x1="382.2" y1="157.5" x2="384.4" y2="157.5" stroke="#000" stroke-width="1"/>
<text x="378.0" y="160.5" font-size="8.5" font-weight="normal" font-family="'Liberation Sans', sans-serif" text-anchor="end" fill="#000" textLength="8.78" lengthAdjust="spacingAndGlyphs" stroke="#000" stroke-width="0.12">70</text>
<line x1="451.0" y1="286.3" x2="451.0" y2="288.8" stroke="#000" stroke-width="0.6"/>
<path d="M405.2,160.2 L405.2,156.1 L426.0,156.1 L426.0,160.2" fill="none" stroke="#222" stroke-width="1.2"/>
<path d="M426.0,160.2 L426.0,156.1 L446.7,156.1 L446.7,160.2" fill="none" stroke="#222" stroke-width="1.2"/>
<text x="415.7" y="153.0" font-size="8.6" font-weight="normal" font-family="'Liberation Sans', sans-serif" text-anchor="middle" fill="#000" textLength="8.3" lengthAdjust="spacingAndGlyphs" stroke="#000" stroke-width="0.12">ns</text>
<text x="436.5" y="153.0" font-size="8.6" font-weight="normal" font-family="'Liberation Sans', sans-serif" text-anchor="middle" fill="#000" textLength="8.3" lengthAdjust="spacingAndGlyphs" stroke="#000" stroke-width="0.12">ns</text>
<path d="M442.3,171.0 L442.3,165.2 L496.0,165.2 L496.0,171.0" fill="none" stroke="#222" stroke-width="1.2"/>
<path d="M442.3,183.8 L442.3,178.4 L478.1,178.4 L478.1,183.8" fill="none" stroke="#222" stroke-width="1.2"/>
<path d="M442.3,193.60000000000002 L442.3,188.8 L462.6,188.8 L462.6,193.60000000000002" fill="none" stroke="#222" stroke-width="1.2"/>
<text x="465.3" y="166.2" font-size="13" font-weight="bold" font-family="'Liberation Sans', sans-serif" text-anchor="middle" fill="#000" >*</text>
<text x="461.1" y="179.2" font-size="13" font-weight="bold" font-family="'Liberation Sans', sans-serif" text-anchor="middle" fill="#000" >*</text>
<text x="451.5" y="190.3" font-size="13" font-weight="bold" font-family="'Liberation Sans', sans-serif" text-anchor="middle" fill="#000" >*</text>
<text transform="translate(350.0,223.6) rotate(-90)" font-size="10.4" font-family="'Liberation Sans', sans-serif" text-anchor="middle" fill="#111">Anti-viral IgG</text>
<text transform="translate(361.6,224.0) rotate(-90)" font-size="10.5" font-family="'Liberation Sans', sans-serif" text-anchor="middle" fill="#111">concentration (µg/ml)</text>
<rect x="27.1" y="300.6" width="11.9" height="7.0" fill="#000"/>
<text x="42.4" y="307.6" font-size="10.5" font-weight="normal" font-family="'Liberation Sans', sans-serif" text-anchor="start" fill="#111" >No transfer</text>
<rect x="115.8" y="302.4" width="11.4" height="6.3" fill="#bbb" stroke="#111" stroke-width="1.4"/>
<text x="129.3" y="309.0" font-size="10.5" font-weight="normal" font-family="'Liberation Sans', sans-serif" text-anchor="start" fill="#111" >Tregs from infected/667-treated mice</text>
<rect x="326.5" y="303.3" width="9.8" height="5.9" fill="#fff" stroke="#111" stroke-width="1.2"/>
<line x1="328.9" y1="307.6" x2="331.6" y2="304.8" stroke="#222" stroke-width="0.9"/>
<line x1="332.5" y1="307.6" x2="334.6" y2="305.4" stroke="#999" stroke-width="0.7"/>
<text x="341.0" y="309.3" font-size="10.5" font-weight="normal" font-family="'Liberation Sans', sans-serif" text-anchor="start" fill="#111" >Tregs from infected/non-treated mice</text>
<rect x="26.8" y="321.9" width="11.0" height="5.6" fill="#fff" stroke="#111" stroke-width="1.2"/>
<text x="40.5" y="328.8" font-size="10.5" font-weight="normal" font-family="'Liberation Sans', sans-serif" text-anchor="start" fill="#111" >Tregs from non infected/non-treated</text>
<rect x="284.8" y="323.7" width="10.8" height="5.3" fill="#fff" stroke="#111" stroke-width="1.3"/>
<line x1="285" y1="326.3" x2="295.4" y2="326.3" stroke="#444" stroke-width="0.9"/>
<text x="300.2" y="329.4" font-size="10.5" font-family="'Liberation Sans', sans-serif" fill="#111">Tregs from infected/667-F(ab')<tspan font-size="7" dy="2.5">2</tspan><tspan dy="-2.5">-treated mice</tspan></text>
<rect x="27.6" y="347.3" width="11.9" height="6.5" fill="#000"/>
<rect x="29.3" y="348.7" width="1.9" height="3.8" fill="#fff"/>
<rect x="32.5" y="348.7" width="1.9" height="3.8" fill="#fff"/>
<rect x="35.7" y="348.7" width="1.9" height="3.8" fill="#fff"/>
<text x="43.7" y="353.0" font-size="10.5" font-family="'Liberation Sans', sans-serif" fill="#111">Tregs from infected/672-treated<tspan dx="1.8"> mice</tspan></text>
</svg>
</body></html>
